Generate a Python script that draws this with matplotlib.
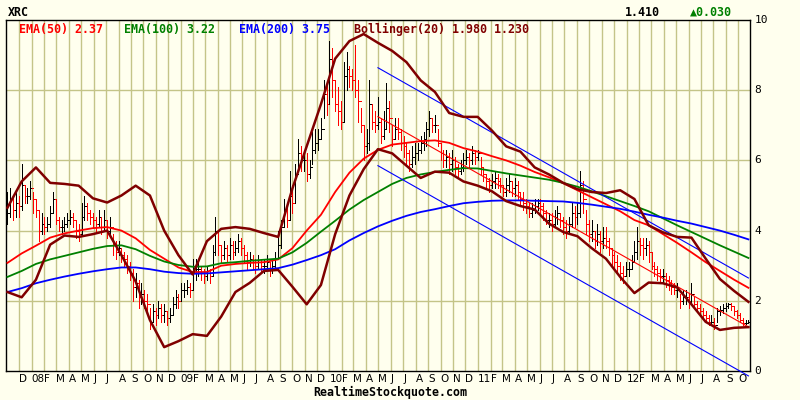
import numpy as np
import pandas as pd
import matplotlib
matplotlib.use("Agg")
import matplotlib.pyplot as plt

# weekly bars, first bar dated 2007-11-02
start = pd.Timestamp("2007-11-02")

closes = [4.5, 4.9, 4.6, 4.8, 4.7, 5.3, 5.0, 5.0, 5.2, 4.9,
          4.6, 4.0, 4.2, 4.1, 4.2, 4.5, 4.9, 4.3, 4.1, 4.1,
          4.2, 4.3, 4.4, 4.3, 4.0, 3.9, 4.4, 4.7, 4.5, 4.4,
          4.3, 4.2, 4.4, 4.1, 4.3, 4.0, 4.1, 3.6, 3.4, 3.5,
          3.3, 3.2, 3.0, 2.8, 2.4, 2.5, 2.1, 2.2, 2.0, 1.9,
          1.4, 1.7, 1.6, 1.8, 1.6, 1.7, 1.5, 1.6, 1.9, 2.1,
          2.0, 2.3, 2.3, 2.4, 2.3, 2.8, 2.9, 2.9, 2.8, 2.7,
          2.8, 2.7, 3.4, 4.0, 3.6, 3.3, 3.5, 3.3, 3.6, 3.4,
          3.5, 3.7, 3.5, 3.3, 3.1, 3.2, 3.1, 3.0, 3.1, 3.0,
          3.0, 3.1, 2.9, 3.0, 3.2, 3.6, 4.1, 4.6, 4.3, 5.0,
          4.8, 5.6, 6.2, 6.0, 6.0, 5.6, 5.8, 6.3, 6.5, 6.6,
          6.9, 7.9, 7.6, 8.9, 8.3, 7.6, 7.4, 7.1, 8.4, 8.6,
          8.4, 8.3, 8.0, 7.7, 7.0, 6.4, 6.5, 7.6, 7.1, 7.0,
          7.1, 6.7, 6.9, 7.5, 7.2, 6.6, 6.9, 6.8, 6.5, 6.4,
          6.2, 5.9, 6.1, 6.2, 6.3, 6.5, 6.6, 6.9, 7.2, 7.0,
          7.0, 6.5, 6.2, 6.0, 6.1, 5.9, 6.0, 5.8, 5.7, 5.8,
          6.0, 6.1, 6.0, 6.2, 6.1, 6.2, 5.8, 5.6, 5.4, 5.3,
          5.4, 5.5, 5.4, 5.3, 5.1, 5.3, 5.4, 5.2, 5.3, 5.1,
          4.9, 4.8, 4.7, 4.5, 4.6, 4.7, 4.8, 4.7, 4.5, 4.3,
          4.3, 4.2, 4.4, 4.5, 4.3, 4.1, 4.0, 4.2, 4.5, 4.4,
          4.5, 5.3, 4.9, 4.2, 3.9, 4.0, 3.7, 3.9, 3.7, 3.8,
          3.7, 3.5, 3.3, 3.1, 3.0, 2.8, 2.7, 2.9, 2.9, 3.1,
          3.4, 3.7, 3.6, 3.5, 3.6, 3.4, 3.0, 2.9, 2.8, 2.7,
          2.7, 2.6, 2.5, 2.4, 2.3, 2.3, 2.0, 2.1, 2.1, 2.0,
          2.2, 1.9, 1.8, 1.7, 1.6, 1.5, 1.4, 1.4, 1.3, 1.7,
          1.75, 1.8, 1.85, 1.9, 1.85, 1.7, 1.6, 1.45, 1.38, 1.38, 1.41]

highs = [5.1, 5.2, 5.0, 5.1, 5.0, 5.9, 5.3, 5.2, 5.4, 5.1,
         4.9, 4.6, 4.5, 4.4, 4.4, 4.7, 5.1, 4.9, 4.4, 4.3,
         4.4, 4.5, 4.6, 4.5, 4.3, 4.2, 4.8, 5.0, 4.8, 4.6,
         4.5, 4.4, 4.6, 4.4, 4.6, 4.3, 4.4, 3.9, 3.7, 3.7,
         3.5, 3.4, 3.3, 3.1, 2.9, 2.8, 2.6, 2.5, 2.3, 2.2,
         1.8, 1.9, 1.8, 2.0, 1.9, 1.9, 1.7, 1.8, 2.1, 2.3,
         2.2, 2.5, 2.5, 2.6, 2.5, 3.2, 3.2, 3.1, 3.0, 2.9,
         3.0, 2.9, 3.6, 4.4, 4.0, 3.6, 3.7, 3.6, 3.8, 3.7,
         3.7, 3.9, 3.8, 3.6, 3.4, 3.4, 3.3, 3.2, 3.3, 3.2,
         3.2, 3.3, 3.1, 3.2, 3.4, 4.0, 4.3, 4.9, 4.7, 5.7,
         5.3, 5.9, 6.6, 6.4, 6.3, 6.2, 6.0, 6.8, 6.9, 6.9,
         7.2, 8.3, 8.2, 9.4, 9.2, 8.3, 8.1, 7.7, 8.8, 9.1,
         8.7, 8.6, 9.3, 8.3, 7.5, 7.0, 6.9, 8.3, 7.6, 7.4,
         7.8, 7.2, 7.4, 8.2, 7.7, 7.0, 7.2, 7.2, 6.9, 6.7,
         6.5, 6.3, 6.4, 6.5, 6.5, 6.7, 6.8, 7.1, 7.4, 7.2,
         7.3, 6.9, 6.5, 6.3, 6.3, 6.2, 6.3, 6.1, 5.9, 6.0,
         6.2, 6.3, 6.2, 6.4, 6.3, 6.3, 6.1, 5.8, 5.6, 5.5,
         5.6, 5.7, 5.6, 5.5, 5.3, 5.5, 5.6, 5.4, 5.5, 5.4,
         5.1, 5.1, 4.9, 4.8, 4.8, 4.9, 4.9, 4.9, 4.8, 4.6,
         4.5, 4.5, 4.6, 4.7, 4.5, 4.4, 4.3, 4.4, 4.8, 4.7,
         4.8, 5.7, 5.4, 4.6, 4.3, 4.3, 4.0, 4.2, 4.0, 4.1,
         4.1, 3.8, 3.5, 3.4, 3.3, 3.1, 3.0, 3.1, 3.1, 3.3,
         3.7, 4.1, 3.8, 3.8, 3.8, 3.7, 3.4, 3.1, 3.0, 2.9,
         2.9, 2.8, 2.7, 2.6, 2.5, 2.5, 2.2, 2.3, 2.3, 2.2,
         2.5, 2.1, 2.0, 1.9, 1.8, 1.7, 1.6, 1.6, 1.5, 1.8,
         1.85, 1.9, 1.95, 1.95, 1.95, 1.85, 1.75, 1.65, 1.5, 1.45, 1.45]

lows = [4.2, 4.4, 4.3, 4.4, 4.4, 4.6, 4.8, 4.8, 4.9, 4.5,
        4.4, 3.7, 3.9, 3.9, 4.0, 4.1, 4.5, 4.2, 4.0, 3.9,
        4.0, 4.1, 4.2, 4.1, 3.8, 3.7, 3.9, 4.3, 4.3, 4.2,
        4.1, 4.0, 4.1, 3.9, 4.0, 3.8, 3.9, 3.3, 3.2, 3.3,
        3.1, 3.0, 2.8, 2.6, 2.0, 2.1, 1.8, 1.9, 1.8, 1.6,
        1.2, 1.4, 1.3, 1.5, 1.4, 1.4, 1.3, 1.4, 1.6, 1.8,
        1.8, 2.0, 2.1, 2.2, 2.1, 2.3, 2.6, 2.7, 2.6, 2.5,
        2.6, 2.5, 2.7, 3.3, 3.3, 3.1, 3.2, 3.1, 3.2, 3.2,
        3.3, 3.4, 3.3, 3.1, 2.9, 3.0, 2.9, 2.8, 2.9, 2.8,
        2.8, 2.9, 2.7, 2.8, 2.9, 3.2, 3.5, 4.1, 4.1, 4.3,
        4.5, 4.8, 5.7, 5.7, 5.7, 5.4, 5.5, 5.9, 6.2, 6.3,
        6.6, 7.2, 7.3, 7.6, 7.8, 7.4, 7.0, 6.9, 7.1, 8.0,
        8.1, 8.0, 7.8, 7.1, 6.8, 6.0, 6.2, 6.3, 6.9, 6.8,
        6.9, 6.5, 6.6, 6.9, 6.8, 6.4, 6.6, 6.6, 6.3, 6.1,
        5.9, 5.7, 5.8, 5.9, 6.0, 6.2, 6.3, 6.4, 6.7, 6.8,
        6.8, 6.4, 6.0, 5.8, 5.8, 5.6, 5.7, 5.6, 5.5, 5.6,
        5.7, 5.9, 5.8, 5.9, 5.9, 6.0, 5.6, 5.4, 5.2, 5.1,
        5.2, 5.2, 5.2, 5.1, 5.0, 5.0, 5.1, 5.0, 5.0, 4.9,
        4.7, 4.6, 4.5, 4.4, 4.4, 4.5, 4.6, 4.5, 4.3, 4.2,
        4.1, 4.0, 4.1, 4.2, 4.1, 3.9, 3.8, 3.9, 4.1, 4.1,
        4.2, 4.4, 4.5, 3.9, 3.7, 3.7, 3.5, 3.6, 3.4, 3.5,
        3.5, 3.3, 3.0, 2.9, 2.8, 2.6, 2.5, 2.7, 2.7, 2.9,
        3.1, 3.2, 3.3, 3.2, 3.3, 3.1, 2.9, 2.7, 2.6, 2.5,
        2.5, 2.4, 2.3, 2.2, 2.2, 2.1, 1.8, 1.9, 1.9, 1.8,
        1.9, 1.8, 1.7, 1.6, 1.5, 1.4, 1.3, 1.3, 1.2, 1.4,
        1.6, 1.65, 1.7, 1.8, 1.75, 1.6, 1.5, 1.4, 1.3, 1.35, 1.37]

# indicator lines, read every 5 weeks
ema50 = [3.08, 3.35, 3.57, 3.80, 3.92, 4.0, 4.07, 4.1, 4.0, 3.78,
         3.45, 3.2, 2.95, 2.82, 2.82, 3.0, 3.05, 3.08, 3.1, 3.18,
         3.5, 4.0, 4.45, 5.1, 5.65, 6.05, 6.3, 6.45, 6.5, 6.55,
         6.57, 6.5, 6.35, 6.25, 6.12, 6.0, 5.85, 5.67, 5.52, 5.35,
         5.15, 4.95, 4.75, 4.55, 4.3, 4.15, 3.9, 3.65, 3.38, 3.1,
         2.85, 2.6, 2.37]
ema100 = [2.68, 2.85, 3.05, 3.18, 3.28, 3.38, 3.48, 3.56, 3.58, 3.47,
          3.28, 3.12, 3.02, 2.97, 2.98, 3.07, 3.1, 3.14, 3.17, 3.2,
          3.38, 3.65, 3.97, 4.28, 4.6, 4.87, 5.1, 5.33, 5.5, 5.6,
          5.67, 5.73, 5.78, 5.77, 5.7, 5.63, 5.57, 5.51, 5.45, 5.36,
          5.25, 5.12, 4.98, 4.84, 4.7, 4.55, 4.35, 4.15, 3.96, 3.77,
          3.58, 3.4, 3.22]
ema200 = [2.25, 2.36, 2.5, 2.6, 2.69, 2.77, 2.84, 2.9, 2.95, 2.95,
          2.9, 2.83, 2.79, 2.77, 2.78, 2.81, 2.84, 2.87, 2.9, 2.93,
          3.03, 3.16, 3.3, 3.47, 3.72, 3.93, 4.12, 4.28, 4.42, 4.53,
          4.61, 4.7, 4.78, 4.82, 4.85, 4.86, 4.86, 4.85, 4.84, 4.83,
          4.79, 4.74, 4.68, 4.62, 4.54, 4.45, 4.37, 4.28, 4.2, 4.1,
          4.0, 3.88, 3.75]
boll_up = [4.65, 5.4, 5.8, 5.36, 5.33, 5.28, 4.92, 4.8, 5.0, 5.28,
           5.0, 4.0, 3.3, 2.75, 3.7, 4.05, 4.1, 4.05, 3.93, 3.82,
           5.2, 6.4, 7.6, 8.9, 9.4, 9.6, 9.35, 9.12, 8.8, 8.28,
           7.95, 7.35, 7.24, 7.24, 6.85, 6.4, 6.25, 5.8, 5.6, 5.36,
           5.18, 5.1, 5.07, 5.15, 4.9, 4.15, 3.95, 3.82, 3.8, 3.2,
           2.62, 2.28, 1.97]
boll_lo = [2.25, 2.1, 2.6, 3.6, 3.86, 3.82, 3.9, 4.0, 3.3, 2.55,
           1.45, 0.68, 0.85, 1.05, 1.0, 1.55, 2.25, 2.51, 2.85, 2.88,
           2.4, 1.9, 2.45, 3.9, 5.0, 5.75, 6.32, 6.2, 5.85, 5.5,
           5.68, 5.65, 5.4, 5.28, 5.12, 4.84, 4.7, 4.6, 4.2, 3.96,
           3.84, 3.5, 3.2, 2.68, 2.22, 2.52, 2.5, 2.38, 1.9, 1.4,
           1.17, 1.23, 1.25]

# regression channel (week index, value at start and end)
chan_weeks = [130, 260]
chan_upper = [8.64, 2.65]
chan_mid = [7.245, 1.255]
chan_lower = [5.85, -0.14]

BG = "#FFFFEE"
GRID = "#C4C488"
DKRED = "#800000"
GREEN = "#008000"
MONO = ["DejaVu Sans Mono", "DejaVu Sans"]

n = len(closes)
wk = np.arange(n)
closes = np.array(closes)
highs = np.array(highs)
lows = np.array(lows)
opens = np.r_[closes[0], closes[:-1]]
cols = np.where(closes >= opens, "black", "#FF0000")
ind_wk = np.arange(0, 5 * len(ema50), 5)

fig = plt.figure(figsize=(8, 4), dpi=100, facecolor=BG)
ax = fig.add_axes([6 / 800, 29 / 400, 744 / 800, 351 / 400], facecolor=BG)
ax.set_xlim(-0.5, 260.55)
ax.set_ylim(0, 10)

# month grid
months = pd.date_range("2007-12-01", "2012-10-01", freq="MS")
mpos = (months - start).days / 7.0
for d, p in zip(months, mpos):
    ax.axvline(p, color=GRID, lw=1.0, zorder=0)
    lab = d.strftime("%y") if d.month == 1 else d.strftime("%b")[0]
    ax.text(p, -0.024, lab, transform=ax.get_xaxis_transform(), ha="left",
            va="center", fontsize=7.5, family="DejaVu Sans", color="black")
for v in [2, 4, 6, 8]:
    ax.axhline(v, color=GRID, lw=1.0, zorder=0)
for v in range(0, 11, 2):
    ax.text(1.006, v, str(v), transform=ax.get_yaxis_transform(), ha="left",
            va="center", fontsize=8, family=MONO, color="black")

ax.set_xticks([])
ax.set_yticks([])
for s in ax.spines.values():
    s.set_color("black")
    s.set_linewidth(1.0)

# OHLC bars
ax.vlines(wk, lows, highs, colors=cols, lw=0.72, zorder=2, antialiased=False)
ax.hlines(opens, wk - 0.4, wk, colors=cols, lw=0.72, zorder=2, antialiased=False)
ax.hlines(closes, wk, wk + 0.4, colors=cols, lw=0.72, zorder=2, antialiased=False)

# indicators
ax.plot(ind_wk, ema50, color="#FF0000", lw=1.3, zorder=3)
ax.plot(ind_wk, ema100, color=GREEN, lw=1.3, zorder=3)
ax.plot(ind_wk, ema200, color="#0000FF", lw=1.3, zorder=3)
ax.plot(ind_wk, boll_up, color=DKRED, lw=1.8, zorder=4)
ax.plot(ind_wk, boll_lo, color=DKRED, lw=1.8, zorder=4)

ax.plot(chan_weeks, chan_upper, color="#0000FF", lw=0.8, zorder=3)
ax.plot(chan_weeks, chan_mid, color="#FF0000", lw=0.8, zorder=3)
ax.plot(chan_weeks, chan_lower, color="#0000FF", lw=0.8, zorder=3, clip_on=False)


def ftxt(x, y, s, **kw):
    fig.text(x / 800, 1 - y / 400, s, va="center", ha="left", family=MONO,
             fontsize=8.4, fontweight="bold", **kw)


ftxt(8, 12, "XRC", color="black")
ftxt(625, 12, "1.410", color="black")
ftxt(690, 12, "\u25b20.030", color=GREEN)
ftxt(19, 29, "EMA(50) 2.37", color="#FF0000")
ftxt(124, 29, "EMA(100) 3.22", color=GREEN)
ftxt(239, 29, "EMA(200) 3.75", color="#0000FF")
ftxt(354, 29, "Bollinger(20) 1.980 1.230", color=DKRED)
fig.text(390 / 800, 1 - 392 / 400, "RealtimeStockquote.com", ha="center",
         va="center", family=MONO, fontsize=8.4, fontweight="bold", color="black")

fig.savefig("out.png", dpi=100, facecolor=BG)
